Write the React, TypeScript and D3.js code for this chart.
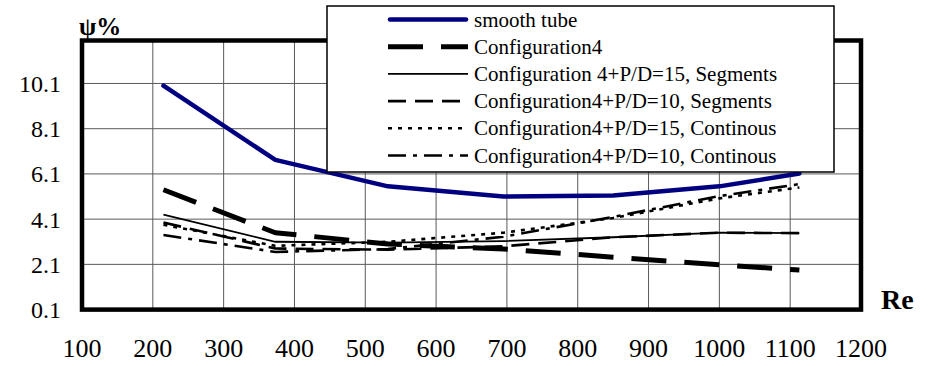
import React from "react";
import * as d3 from "d3";

// Reynolds numbers of the measured points
const reValues = [215, 373, 532, 695, 850, 1000, 1113];

// Ψ% for each configuration
const smoothTube = [10.0, 6.72, 5.55, 5.1, 5.15, 5.55, 6.12];
const config4 = [5.4, 3.5, 3.0, 2.78, 2.42, 2.08, 1.85];
const pd15Segments = [4.3, 3.1, 3.06, 3.13, 3.3, 3.5, 3.48];
const pd10Segments = [3.95, 2.8, 2.75, 2.9, 3.3, 3.5, 3.48];
const pd15Continous = [3.85, 2.92, 3.1, 3.5, 4.15, 5.02, 5.5];
const pd10Continous = [3.4, 2.65, 2.78, 3.32, 4.2, 5.12, 5.65];

const seriesNames = [
  "smooth tube",
  "Configuration4",
  "Configuration 4+P/D=15, Segments",
  "Configuration4+P/D=10, Segments",
  "Configuration4+P/D=15, Continous",
  "Configuration4+P/D=10, Continous",
];
const seriesValues = [smoothTube, config4, pd15Segments, pd10Segments, pd15Continous, pd10Continous];

const xTicks = [100, 200, 300, 400, 500, 600, 700, 800, 900, 1000, 1100, 1200];
const yTicks = [0.1, 2.1, 4.1, 6.1, 8.1, 10.1];

type LineStyle = { color: string; width: number; dash?: string; cap?: "round" | "butt" };
const styles: LineStyle[] = [
  { color: "#000080", width: 4.5, cap: "round" },
  { color: "#000", width: 5, dash: "35 18" },
  { color: "#000", width: 1.8 },
  { color: "#000", width: 2.6, dash: "18 9" },
  { color: "#000", width: 2.6, dash: "4 6" },
  { color: "#000", width: 2.6, dash: "18 7 4 7" },
];

const SERIF = '"Times New Roman", "Liberation Serif", serif';

export default function App() {
  const x = d3.scaleLinear().domain([100, 1200]).range([82, 861]);
  const y = d3.scaleLinear().domain([0.1, 12.0]).range([309.6, 40.5]);
  const [x0, x1] = x.range();
  const [y0, y1] = y.range();

  const line = d3
    .line<[number, number]>()
    .x((d) => x(d[0]))
    .y((d) => y(d[1]));

  const legend = { x: 327, y: 6, w: 507, h: 166, lineX0: 388, lineX1: 468, textX: 474, row0: 19.5, rowStep: 27.2 };

  return (
    <svg width={931} height={366} style={{ position: "absolute", left: 0, top: 0, fontFamily: SERIF }}>
      {/* grid */}
      <g stroke="#5a5a5a" strokeWidth={1}>
        {xTicks.slice(1, -1).map((t) => (
          <line key={`gx${t}`} x1={x(t)} x2={x(t)} y1={y1} y2={y0} />
        ))}
        {yTicks.slice(1).map((t) => (
          <line key={`gy${t}`} x1={x0} x2={x1} y1={y(t)} y2={y(t)} />
        ))}
      </g>

      {/* series */}
      {seriesValues.map((vals, i) => {
        const s = styles[i];
        const pts = reValues.map((r, k) => [r, vals[k]] as [number, number]);
        return (
          <path
            key={seriesNames[i]}
            d={line(pts) ?? ""}
            fill="none"
            stroke={s.color}
            strokeWidth={s.width}
            strokeDasharray={s.dash}
            strokeLinecap={s.cap ?? "butt"}
            strokeLinejoin="round"
          />
        );
      })}

      {/* plot frame */}
      <rect x={x0} y={y1} width={x1 - x0} height={y0 - y1} fill="none" stroke="#000" strokeWidth={4.5} />

      {/* tick labels */}
      {yTicks.map((t) => (
        <text key={`ly${t}`} x={61} y={y(t) + 8.5} textAnchor="end" style={{ fontFamily: SERIF, fontSize: 24 }}>
          {t.toFixed(1)}
        </text>
      ))}
      {xTicks.map((t) => (
        <text key={`lx${t}`} x={x(t)} y={357} textAnchor="middle" style={{ fontFamily: SERIF, fontSize: 26 }}>
          {t}
        </text>
      ))}

      {/* axis titles */}
      <text x={79} y={35} style={{ fontFamily: SERIF, fontSize: 25, fontWeight: "bold" }}>
        ψ%
      </text>
      <text x={881} y={309} style={{ fontFamily: SERIF, fontSize: 28, fontWeight: "bold" }}>
        Re
      </text>

      {/* legend */}
      <rect x={legend.x} y={legend.y} width={legend.w} height={legend.h} fill="#fff" stroke="#000" strokeWidth={1.5} />
      {seriesNames.map((name, i) => {
        const s = styles[i];
        const cy = legend.row0 + i * legend.rowStep;
        return (
          <g key={`lg${i}`}>
            <line
              x1={legend.lineX0 + (s.cap === "round" ? 2 : 0)}
              x2={legend.lineX1 - (s.cap === "round" ? 2 : 0)}
              y1={cy}
              y2={cy}
              stroke={s.color}
              strokeWidth={s.width}
              strokeDasharray={s.dash}
              strokeLinecap={s.cap ?? "butt"}
            />
            <text x={legend.textX} y={cy + 7} style={{ fontFamily: SERIF, fontSize: 21 }}>
              {name}
            </text>
          </g>
        );
      })}
    </svg>
  );
}
